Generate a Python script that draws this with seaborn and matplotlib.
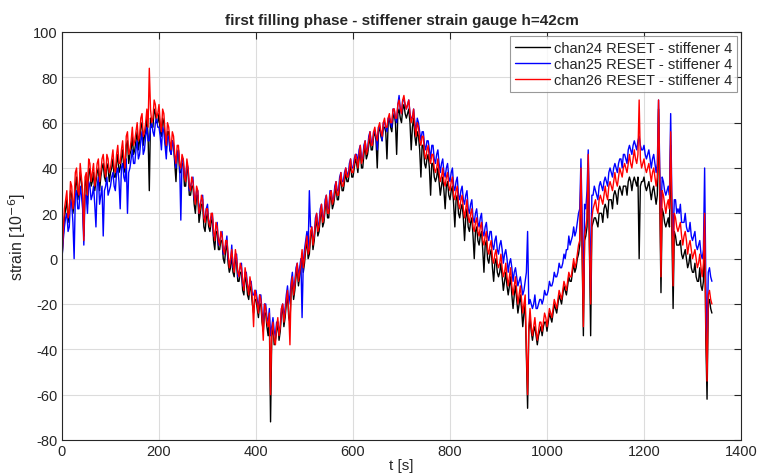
import numpy as np
import pandas as pd
import matplotlib
matplotlib.use("Agg")
import matplotlib.pyplot as plt
import seaborn as sns

# sample times [s]: main readings every 5 s, plus in-between readings
t = np.arange(0, 1345, 5)
t_mid = np.arange(2.5, 1340, 5)

chan24 = [
    0, 18, 26, 22, 28, 24, 36, 30, 34, 10, 36, 40, 32, 38, 34, 40, 36, 42, 34, 40,
    38, 44, 36, 46, 40, 48, 38, 52, 46, 54, 48, 56, 52, 60, 54, 62, 30, 58, 66, 60,
    64, 54, 60, 48, 56, 46, 50, 34, 48, 38, 42, 32, 38, 28, 32, 20, 28, 20, 24, 12,
    20, 12, 18, 4, 12, 4, 8, -2, 6, -6, 2, -8, -2, -10, -6, -16, -10, -18, -14, -24,
    -18, -26, -20, -32, -24, -34, -72, -30, -36, -28, -32, -22, -26, -16, -28, -10, -14, -4, -8, 2,
    -2, 8, 2, 12, 8, 18, 12, 22, 16, 26, 18, 28, 24, 32, 26, 36, 30, 38, 34, 42,
    36, 44, 38, 48, 40, 50, 46, 54, 48, 56, 40, 58, 52, 58, 44, 62, 56, 64, 46, 66,
    60, 68, 62, 66, 48, 62, 50, 54, 36, 50, 40, 46, 28, 42, 34, 40, 28, 36, 22, 34,
    26, 32, 14, 28, 18, 24, 8, 22, 12, 18, 0, 14, 6, 12, -6, 8, -2, 4, -10, 0,
    -8, -2, -14, -6, -16, -8, -22, -12, -24, -16, -30, -20, -66, -26, -36, -30, -38, -32, -34, -28,
    -32, -24, -28, -20, -24, -16, -20, -12, -16, -8, -10, -2, -4, 2, 36, -34, 10, 42, -34, 16,
    18, 14, 20, 16, 24, 18, 26, 22, 30, 24, 32, 28, 32, 28, 36, 30, 36, 32, 0, 34,
    36, 30, 34, 26, 32, 24, 66, -15, 20, 14, 18, 50, -22, 10, 6, 8, 0, 4, -4, 2,
    -6, -2, -10, -4, -14, 14, -62, -18, -24,
]
chan24_mid = [
    10, 22, 16, 30, 20, 32, 26, 38, 28, 32, 24, 38, 34, 30, 38, 30, 40, 36, 42, 34,
    40, 36, 42, 38, 44, 40, 50, 42, 48, 46, 52, 48, 58, 50, 56, 54, 62, 58, 64, 60,
    56, 62, 52, 56, 48, 52, 42, 46, 38, 42, 32, 40, 28, 32, 24, 28, 16, 24, 14, 18,
    14, 16, 8, 12, 4, 8, 0, 4, -2, -4, -6, 0, -10, -6, -14, -8, -16, -12, -20, -18,
    -22, -20, -28, -24, -30, -26, -34, -38, -32, -36, -24, -30, -20, -26, -14, -18, -8, -12, -4, -6,
    4, 0, 10, 4, 14, 10, 18, 14, 22, 18, 26, 22, 28, 26, 32, 30, 34, 34, 38, 36,
    40, 42, 44, 40, 46, 44, 50, 48, 54, 52, 56, 54, 58, 56, 60, 58, 62, 60, 64, 62,
    66, 64, 64, 60, 58, 54, 56, 48, 50, 42, 44, 40, 42, 36, 36, 34, 32, 30, 32, 28,
    30, 24, 26, 20, 22, 18, 18, 14, 16, 10, 12, 8, 10, 4, 6, 0, 2, -4, -2, -6,
    -6, -8, -10, -12, -12, -16, -16, -18, -20, -22, -24, -44, -32, -32, -32, -34, -34, -30, -30, -28,
    -28, -26, -24, -22, -20, -18, -16, -14, -12, -10, -6, -6, 0, 6, 2, 8, 14, 4, 14, 18,
    16, 20, 20, 22, 22, 26, 26, 28, 28, 30, 30, 32, 32, 34, 34, 34, 34, 36, 32, 34,
    32, 32, 30, 30, 28, 28, 26, 22, 16, 16, 14, 12, 12, 6, 6, 2, 2, 0, -2, -4,
    -6, -8, -10, -12, -10, -36, -20, -22,
]

chan25 = [
    0, 14, 20, 14, 24, 0, 30, 22, 28, 6, 28, 34, 26, 32, 14, 36, 28, 10, 32, 28,
    32, 38, 30, 40, 22, 42, 34, 20, 40, 48, 42, 52, 46, 56, 48, 58, 52, 60, 54, 62,
    58, 48, 56, 44, 54, 46, 50, 40, 48, 17, 44, 36, 40, 32, 36, 26, 30, 24, 28, 18,
    24, 16, 20, 10, 16, 8, 12, 4, 10, -2, 6, -4, 2, -6, -2, -12, -6, -14, -10, -16,
    -14, -22, -16, -28, -20, -28, -34, -26, -34, -28, -30, -20, -22, -12, -16, -6, -10, -2, -4, -26,
    4, 12, 30, 14, 10, 20, 16, 24, 18, 28, 22, 30, 26, 34, 30, 38, 34, 40, 36, 44,
    40, 46, 42, 50, 44, 52, 48, 56, 50, 56, 48, 58, 52, 60, 56, 62, 58, 66, 60, 72,
    64, 70, 66, 70, 62, 66, 56, 60, 52, 56, 48, 52, 44, 50, 42, 48, 38, 44, 36, 42,
    34, 40, 30, 36, 26, 32, 24, 30, 20, 26, 16, 22, 14, 20, 10, 16, 8, 12, 4, 10,
    2, 8, -2, 4, -6, 0, -10, -4, -12, -8, -16, -10, 12, -18, -22, -16, -22, -18, -20, -14,
    -16, -10, -12, -6, -8, -2, -4, 2, 4, 10, 8, 14, 12, 20, 44, -18, 22, 48, -14, 28,
    30, 26, 34, 30, 36, 32, 40, 36, 42, 38, 44, 40, 46, 42, 50, 46, 52, 48, 54, 48,
    50, 44, 48, 40, 46, 38, 70, 20, 34, 28, 32, 64, 10, 26, 22, 24, 16, 20, 12, 16,
    8, 12, 4, 8, 0, 40, -40, -4, -10,
]
chan25_mid = [
    8, 18, 12, 26, 16, 28, 22, 32, 22, 28, 20, 32, 28, 24, 32, 24, 32, 30, 36, 30,
    36, 32, 38, 34, 40, 36, 44, 38, 44, 42, 48, 44, 52, 46, 54, 52, 58, 56, 60, 58,
    54, 58, 50, 54, 48, 52, 44, 46, 42, 44, 36, 42, 30, 34, 26, 30, 20, 26, 18, 22,
    16, 18, 10, 14, 6, 10, 2, 6, 0, -2, -4, 2, -8, -4, -12, -6, -12, -10, -16, -14,
    -18, -16, -24, -20, -26, -22, -30, -32, -28, -32, -22, -26, -16, -20, -10, -14, -4, -8, 0, -2,
    8, 4, 14, 8, 18, 14, 22, 18, 26, 22, 30, 26, 32, 30, 36, 34, 38, 38, 42, 40,
    44, 46, 48, 44, 50, 48, 54, 52, 56, 54, 58, 56, 60, 58, 62, 60, 66, 62, 68, 66,
    70, 68, 68, 64, 62, 60, 62, 56, 56, 50, 52, 48, 50, 44, 46, 42, 42, 38, 40, 36,
    38, 32, 34, 28, 30, 26, 28, 22, 24, 18, 20, 16, 18, 12, 14, 10, 12, 6, 8, 4,
    6, 4, 2, 0, -2, -4, -6, -8, -10, -12, -14, -6, -20, -20, -20, -22, -20, -18, -18, -16,
    -14, -12, -10, -8, -6, -4, -2, 0, 4, 6, 10, 10, 16, 22, 18, 24, 30, 20, 28, 32,
    28, 32, 32, 34, 34, 38, 38, 40, 40, 42, 44, 46, 44, 48, 48, 50, 50, 52, 50, 48,
    46, 46, 44, 44, 42, 42, 40, 36, 30, 30, 28, 26, 26, 20, 20, 16, 16, 14, 12, 10,
    10, 6, 6, 2, 4, -10, -6, -8,
]

chan26 = [
    0, 22, 30, 20, 32, 26, 40, 28, 36, 8, 38, 44, 34, 42, 36, 44, 38, 46, 36, 44,
    40, 48, 38, 50, 42, 52, 40, 56, 48, 58, 52, 60, 54, 64, 56, 66, 84, 60, 70, 62,
    68, 56, 64, 50, 58, 48, 54, 42, 50, 40, 44, 34, 40, 30, 34, 24, 30, 22, 26, 16,
    22, 14, 20, 8, 14, 6, 10, 2, 8, -4, 4, -6, 0, -8, -4, -14, -8, -16, -12, -30,
    -16, -24, -18, -36, -22, -30, -60, -28, -38, -26, -30, -20, -24, -14, -38, -8, -12, -2, -6, 4,
    0, 10, 4, 14, 10, 20, 14, 24, 18, 28, 20, 30, 26, 34, 28, 38, 32, 40, 36, 44,
    38, 46, 40, 50, 44, 52, 48, 56, 50, 58, 52, 60, 54, 62, 58, 64, 60, 66, 62, 70,
    64, 72, 66, 70, 60, 66, 54, 58, 50, 54, 44, 50, 42, 46, 38, 44, 34, 40, 32, 38,
    30, 36, 26, 32, 22, 28, 18, 26, 16, 22, 12, 18, 10, 16, 6, 12, 2, 8, -2, 4,
    -4, 2, -8, -2, -12, -4, -16, -8, -20, -12, -24, -16, -60, -22, -34, -26, -36, -28, -32, -24,
    -30, -22, -26, -18, -22, -14, -18, -10, -14, -6, -8, 0, -2, 6, 40, -30, 14, 46, -20, 22,
    26, 20, 28, 24, 32, 26, 34, 30, 38, 32, 40, 36, 42, 38, 46, 40, 48, 42, 70, 40,
    44, 38, 42, 34, 40, 32, 70, -8, 28, 20, 26, 56, -12, 18, 12, 16, 6, 12, 2, 8,
    0, 4, -4, 2, -8, 20, -54, -14, -20,
]
chan26_mid = [
    12, 26, 18, 34, 22, 38, 30, 42, 30, 36, 28, 42, 38, 32, 42, 34, 44, 40, 46, 38,
    44, 40, 46, 42, 48, 44, 54, 46, 52, 50, 56, 52, 62, 54, 60, 58, 66, 62, 68, 64,
    60, 66, 56, 60, 52, 56, 46, 50, 42, 46, 36, 44, 32, 36, 28, 32, 20, 28, 18, 22,
    16, 20, 12, 16, 8, 12, 4, 8, 2, 0, -2, 4, -6, -2, -10, -4, -12, -8, -18, -14,
    -20, -16, -26, -20, -28, -24, -32, -36, -30, -34, -22, -28, -18, -24, -12, -16, -6, -10, -2, -4,
    6, 2, 12, 6, 16, 12, 20, 16, 24, 20, 28, 24, 30, 28, 34, 32, 36, 36, 40, 38,
    42, 44, 46, 42, 48, 46, 52, 50, 56, 54, 58, 56, 60, 58, 62, 60, 66, 62, 68, 66,
    70, 68, 68, 64, 62, 58, 60, 52, 54, 46, 48, 44, 46, 40, 40, 38, 36, 34, 36, 32,
    34, 28, 30, 24, 26, 22, 22, 18, 20, 14, 16, 12, 14, 8, 10, 4, 6, 0, 2, -2,
    -2, -4, -6, -8, -8, -12, -12, -14, -16, -18, -20, -40, -30, -30, -30, -32, -32, -28, -28, -26,
    -26, -24, -22, -20, -18, -16, -14, -12, -10, -8, -4, -4, 2, 8, 4, 10, 18, 6, 18, 24,
    22, 26, 26, 28, 28, 32, 32, 34, 34, 36, 38, 40, 40, 42, 42, 44, 44, 46, 44, 42,
    40, 40, 38, 38, 36, 36, 34, 30, 24, 24, 22, 20, 20, 14, 14, 10, 10, 8, 6, 4,
    2, 0, -2, -4, -2, -30, -16, -18,
]

labels = ["chan24 RESET - stiffener 4",
          "chan25 RESET - stiffener 4",
          "chan26 RESET - stiffener 4"]
colors = ["#000000", "#0000ff", "#ff0000"]

frames = []
for main, mid, lab in [(chan24, chan24_mid, labels[0]),
                       (chan25, chan25_mid, labels[1]),
                       (chan26, chan26_mid, labels[2])]:
    frames.append(pd.DataFrame({"t": np.concatenate([t, t_mid]),
                                "strain": main + mid, "channel": lab}))
df = pd.concat(frames)

sns.set_style("white")
plt.rcParams["font.family"] = ["Liberation Sans", "DejaVu Sans"]
plt.rcParams["axes.unicode_minus"] = False

fig = plt.figure(figsize=(7.59, 4.77), dpi=100)
ax = fig.add_axes([62 / 759, 36 / 477, 679 / 759, 408 / 477])

sns.lineplot(data=df, x="t", y="strain", hue="channel", palette=colors,
             estimator=None, sort=True, linewidth=1.0, ax=ax)

ax.set_xlim(0, 1400)
ax.set_ylim(-80, 100)
ax.set_xticks(np.arange(0, 1401, 200))
ax.set_yticks(np.arange(-80, 101, 20))
ax.grid(True, color="#dcdcdc", linewidth=0.8)
ax.set_axisbelow(True)
for s in ax.spines.values():
    s.set_color("#262626")
    s.set_linewidth(0.8)
ax.tick_params(direction="in", length=5, width=0.8, top=True, right=True,
               labelsize=10.5, colors="#262626", pad=3)

ax.set_title("first filling phase - stiffener strain gauge h=42cm",
             fontsize=11, fontweight="bold", pad=6)
ax.set_xlabel("t [s]", fontsize=11, labelpad=0)
ax.set_ylabel("strain [10$^{-6}$]", fontsize=11.5, labelpad=4)

leg = ax.legend(loc="upper right", fontsize=10.5, frameon=True, fancybox=False,
                handlelength=2.4, handletextpad=0.3, borderpad=0.3,
                labelspacing=0.15, borderaxespad=0.3)
leg.get_frame().set_edgecolor("#808080")
leg.get_frame().set_linewidth(0.8)
for line in leg.get_lines():
    line.set_linewidth(1.0)

fig.savefig("out.png", dpi=100)
